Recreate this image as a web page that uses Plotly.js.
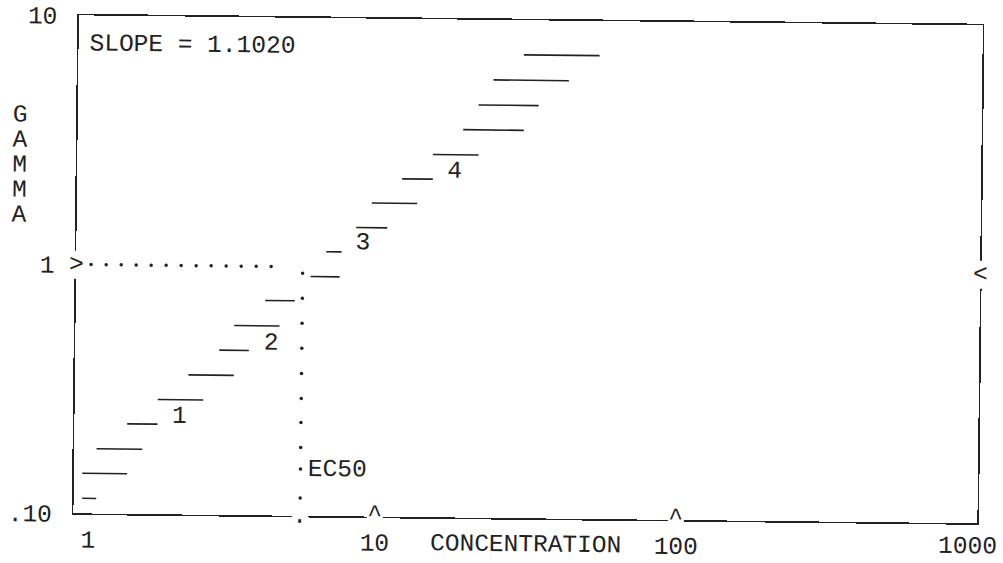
<!DOCTYPE html>
<html>
<head>
<meta charset="utf-8">
<script src="https://cdn.plot.ly/plotly-3.0.1.min.js"></script>
<style>
  html, body { margin: 0; padding: 0; background: #ffffff; }
  #chart { width: 1003px; height: 563px; transform: rotate(0.63deg); transform-origin: 501px 281px; }
</style>
</head>
<body>
<div id="chart"></div>
<script>
// ---- data ----
const gamma    = [0.115, 0.145, 0.182, 0.230, 0.289, 0.364, 0.459, 0.577, 0.730, 0.915, 1.153, 1.446, 1.816, 2.279, 2.864, 3.613, 4.548, 5.741, 7.262];
const concLow  = [1.068, 1.066, 1.187, 1.497, 1.887, 2.380, 3.006, 3.363, 4.251, 6.001, 6.752, 8.472, 9.524, 11.99, 15.13, 19.03, 21.36, 23.89, 30.06];
const concHigh = [1.189, 1.503, 1.683, 1.887, 2.671, 3.366, 3.769, 4.754, 5.333, 7.492, 7.590, 10.74, 13.47, 15.15, 21.46, 30.24, 33.79, 42.49, 53.61];

const ec50 = 5.647;
const ec50DotsY = [0.942, 0.747, 0.593, 0.471, 0.373, 0.296, 0.237, 0.188, 0.154, 0.118];
const gammaOneDotsX = [1.121, 1.258, 1.411, 1.582, 1.774, 1.989, 2.231, 2.502, 2.806, 3.147, 3.529, 3.958, 4.438];

const groupLabels = ['1', '2', '3', '4'];
const groupLabelX = [2.231, 4.467, 8.925, 17.88];
const groupLabelY = [0.247, 0.491, 1.251, 2.448];

const xTickVals = [1, 10, 100];
const xTickText = ['\u00a0\u00a01', '10', '100'];
const xLastTickVal = 1000;
const xLastTickText = '1000';
const yTickVals = [0.1, 1, 10];
const yTickText = ['.10', '1', '10'];
const caretX = [10, 100];

const slopeText = 'SLOPE = 1.1020';
const ec50Text = 'EC50';
const yTitleLetters = ['G', 'A', 'M', 'M', 'A'];
const xTitle = 'CONCENTRATION';

// ---- style ----
const FONT = 'Liberation Mono, Courier New, monospace';
const INK = '#222222';
const FS = 24.5;

// build step segments
const segX = [], segY = [];
for (let i = 0; i < gamma.length; i++) {
  segX.push(concLow[i], concHigh[i], null);
  segY.push(gamma[i], gamma[i], null);
}

const traces = [
  { type: 'scatter', mode: 'lines', x: segX, y: segY,
    line: { color: INK, width: 1.6 }, hoverinfo: 'skip', showlegend: false },
  { type: 'scatter', mode: 'markers', x: ec50DotsY.map(() => ec50), y: ec50DotsY,
    marker: { color: INK, size: 3.5 }, hoverinfo: 'skip', showlegend: false },
  { type: 'scatter', mode: 'markers', x: gammaOneDotsX, y: gammaOneDotsX.map(() => 1),
    marker: { color: INK, size: 3.5 }, hoverinfo: 'skip', showlegend: false },
  { type: 'scatter', mode: 'text', x: groupLabelX, y: groupLabelY, text: groupLabels,
    textposition: 'middle center', textfont: { family: FONT, size: FS, color: INK },
    hoverinfo: 'skip', showlegend: false, cliponaxis: false }
];

const annotations = [];
annotations.push({ xref: 'x', yref: 'y', x: Math.log10(1.07), y: Math.log10(7.7),
  text: slopeText, showarrow: false, xanchor: 'left', yanchor: 'middle',
  font: { family: FONT, size: FS, color: INK } });
annotations.push({ xref: 'x', yref: 'y', x: Math.log10(ec50), y: Math.log10(ec50DotsY[8]),
  text: ec50Text, showarrow: false, xanchor: 'left', yanchor: 'middle', xshift: 5,
  font: { family: FONT, size: FS, color: INK } });
const letterY = [0.7972, 0.7474, 0.6976, 0.6479, 0.5981];
yTitleLetters.forEach((ch, i) => annotations.push({ xref: 'paper', yref: 'paper',
  x: -0.0633, y: letterY[i], text: ch, showarrow: false, xanchor: 'center', yanchor: 'middle',
  font: { family: FONT, size: FS, color: INK } }));
annotations.push({ xref: 'paper', yref: 'paper', x: 0.501, y: -0.0536, text: xTitle,
  showarrow: false, xanchor: 'center', yanchor: 'middle', font: { family: FONT, size: FS, color: INK } });
// last x tick label, pulled inside the page edge as in the reference
annotations.push({ xref: 'x', yref: 'paper', x: Math.log10(xLastTickVal), y: -0.047, text: xLastTickText,
  showarrow: false, xanchor: 'center', yanchor: 'middle', xshift: -10,
  font: { family: FONT, size: FS, color: INK } });
// axis marker characters (with white background to cut the frame line)
annotations.push({ xref: 'paper', yref: 'y', x: 0, y: 0, text: '>', showarrow: false,
  xanchor: 'center', yanchor: 'middle', bgcolor: '#ffffff', borderpad: 0,
  font: { family: FONT, size: FS, color: INK } });
annotations.push({ xref: 'paper', yref: 'y', x: 1, y: 0, text: '<', showarrow: false,
  xanchor: 'center', yanchor: 'middle', bgcolor: '#ffffff', borderpad: 0,
  font: { family: FONT, size: FS, color: INK } });
caretX.forEach(cx => annotations.push({ xref: 'x', yref: 'paper', x: Math.log10(cx), y: 0,
  text: '^', showarrow: false, xanchor: 'center', yanchor: 'middle', bgcolor: '#ffffff', borderpad: 0,
  yshift: 2, font: { family: FONT, size: FS, color: INK } }));
annotations.push({ xref: 'x', yref: 'paper', x: Math.log10(ec50), y: 0, text: '.', showarrow: false,
  xanchor: 'center', yanchor: 'middle', bgcolor: '#ffffff', borderpad: 0,
  font: { family: FONT, size: FS, color: INK } });

const layout = {
  width: 1003, height: 563,
  margin: { l: 76, r: 23, t: 20, b: 45 },
  paper_bgcolor: '#ffffff', plot_bgcolor: '#ffffff',
  showlegend: false,
  font: { family: FONT, size: FS, color: INK },
  xaxis: { type: 'log', range: [0, 3], showgrid: false, zeroline: false,
    showline: true, mirror: true, linecolor: INK, linewidth: 1.6,
    ticks: '', tickvals: xTickVals, ticktext: xTickText, ticklabelstandoff: 3,
    tickfont: { family: FONT, size: FS, color: INK }, fixedrange: true },
  yaxis: { type: 'log', range: [-1, 1], showgrid: false, zeroline: false,
    showline: true, mirror: true, linecolor: INK, linewidth: 1.6,
    ticks: '', tickvals: yTickVals, ticktext: yTickText, ticklabelstandoff: 15,
    tickfont: { family: FONT, size: FS, color: INK }, fixedrange: true },
  annotations: annotations
};

Plotly.newPlot('chart', traces, layout, { displayModeBar: false, staticPlot: true });
</script>
</body>
</html>
